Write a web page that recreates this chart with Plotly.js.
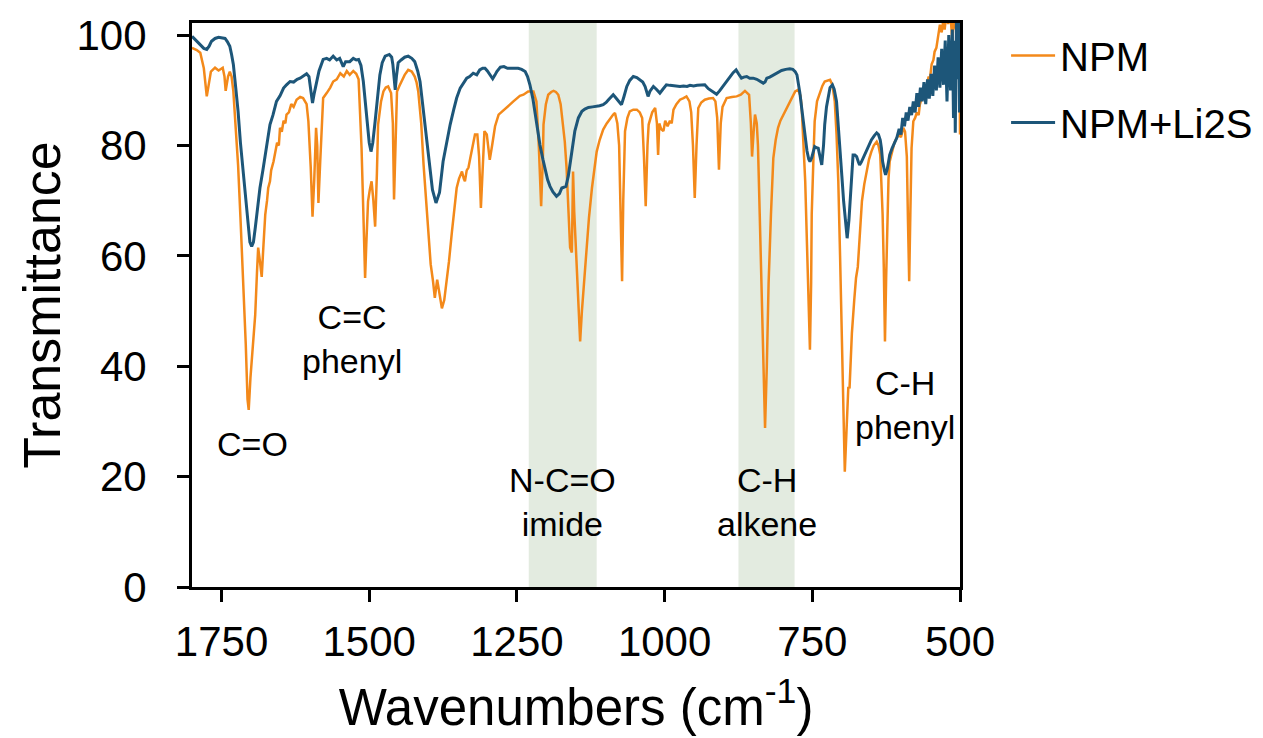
<!DOCTYPE html>
<html>
<head>
<meta charset="utf-8">
<script src="https://cdn.plot.ly/plotly-3.0.1.min.js"></script>
<style>html,body{margin:0;padding:0;background:#fff;}#chart{width:1263px;height:738px;}</style>
</head>
<body>
<div id="chart"></div>
<script>
// ---- Data ----
const seriesNames = ["NPM", "NPM+Li2S"];

const npmWn = [1800,1792,1786,1780,1775,1771,1768,1761,1755,1748,1745,1743,1739,1736,1733,1730,1726,1722,1718,1713,1709,1706,1704,1701,1697,1693,1690,1688,1685,1682,1679,1676,1673,1671,1668,1666,1662,1659,1656,1653,1651,1648,1645,1642,1640,1636,1632,1628,1623,1617,1612,1606,1603,1599,1596,1593,1590,1588,1586,1583,1578,1572,1566,1561,1555,1549,1543,1538,1533,1527,1522,1518,1515,1513,1510,1507,1505,1502,1499,1496,1493,1490,1487,1485,1480,1476,1472,1468,1463,1460,1458,1456,1453,1449,1445,1440,1434,1428,1423,1420,1417,1412,1408,1404,1400,1396,1392,1389,1385,1381,1377,1373,1369,1365,1360,1356,1352,1348,1343,1340,1338,1335,1332,1329,1325,1321,1317,1314,1311,1308,1305,1301,1298,1296,1292,1287,1281,1274,1268,1262,1256,1250,1245,1239,1231,1222,1217,1213,1209,1206,1205,1201,1197,1192,1188,1184,1180,1176,1174,1171,1169,1166,1163,1160,1157,1155,1153,1150,1146,1143,1140,1136,1132,1128,1123,1119,1115,1110,1104,1098,1092,1087,1084,1080,1077,1074,1072,1070,1067,1063,1059,1053,1047,1042,1038,1035,1032,1029,1027,1021,1016,1013,1011,1009,1006,1002,999,995,991,988,985,980,974,968,963,958,955,952,949,946,943,938,932,925,918,914,911,908,905,902,895,886,878,871,864,860,857,854,852,849,847,844,842,839,836,833,830,827,824,820,816,812,808,804,799,794,788,783,779,774,770,768,765,762,759,756,754,752,751,748,746,742,737,733,729,724,720,716,712,709,706,703,700,697,695,693,691,689,687,685,683,679,676,673,671,668,666,662,658,654,650,646,641,638,635,633,631,629,627,625,623,621,619,615,611,607,603,600,596,593,590,588,586,584,582,579,576,573,570,568,565,562,559,556,553,551,548,545,543,540,537,534,531,528,526,523,520,517,513,510,507,505,502,501,500];
const npmT  = [97.7,97.3,96.8,94,88.9,92,93.4,94.1,93.6,94.1,92.5,89.9,92.5,93.4,92.5,89.8,83,76.5,67,55.4,44,34,32.1,38,44,49.3,57,61.5,59,56.2,62,67.5,70,72.3,73.5,75.5,77.1,78.5,80.5,80,83.2,82.5,84.5,84,85.6,86,87.5,87,88.3,88.8,88.6,87.5,84.4,76,67.1,74,83.2,80,69.6,77,88.6,89.5,90.5,91.6,92,93.1,92.5,93.5,92.8,93.5,93,92,86,79.5,68,56,62,69.9,72,73.5,70,65.3,75,83.8,88,89.8,90.5,90.7,89.5,84,70.2,80,89.8,90.8,91.6,92.8,93.7,93.4,92.5,91.5,89.8,84,76.5,70,63.8,58.5,55.4,52.4,55.7,53,50.5,52,55.4,59,64.4,69,72.3,74,75.3,74,73.5,75.5,76,77.7,80,82,82,78,68.7,76,82.6,82,79,77.4,80,83.5,85.6,86.2,86.8,87.4,88,88.6,89,89.2,89.8,89.8,88,80,69,78,83.8,87.5,89.2,89.7,89.9,89.7,89.2,87.5,85.6,82,80.7,76,70,61.5,60.6,75.3,68,60,52,44.5,50,56,61.5,67,72.3,76,78.9,81,82.9,84,85,85.6,85.9,84,80,68,55.4,70,82.6,85,86.2,86.5,86.5,86,85,78,69,80,83.8,86,86.8,84,78.3,84,83,82.6,84.5,83.5,84.5,84,86.5,87.5,88.3,88.6,88.9,88,86,80,70.5,80,86.8,87.8,88.3,88.5,88.6,88,85,75.6,84,87,88.6,88.8,88.9,89.2,89.9,89.5,89.2,84,78,83,85.6,84,80,67.5,55,40,28.8,40,55,67.5,77.7,81,83.2,84.5,85.6,86.8,88,89,89.8,90.1,89,87,81,73.5,62,50,43,55,67.5,78,84.4,88,89.8,90.8,91.6,91.8,91.9,91,88,82,73.5,60,45,30,20.9,26,33,36.3,36,42,46,52,56,58,62,67,69.9,73,75.3,77.5,78.9,80,80.7,80,78.3,74,67.5,58,44.5,56,67.5,74,77.1,79,80.5,81.4,82,81.5,83.2,82.5,78,66,55.4,68,79.5,84.4,85,86,85.5,87.4,88.5,89,90.5,91,92.5,92,94.7,95.5,97,97.7,99.5,101.9,100.5,103,101,104,102,105,99,104,101,104,97,100,82];

const li2sWn = [1800,1793,1786,1780,1775,1771,1767,1761,1755,1749,1744,1740,1736,1733,1730,1726,1722,1718,1713,1709,1705,1702,1699,1696,1693,1689,1685,1680,1676,1672,1668,1663,1657,1651,1645,1640,1634,1628,1622,1617,1612,1606,1602,1599,1596,1593,1589,1585,1580,1578,1572,1567,1561,1555,1550,1544,1540,1533,1527,1522,1518,1514,1510,1507,1504,1500,1497,1494,1490,1486,1482,1478,1473,1466,1462,1460,1458,1456,1454,1451,1446,1440,1434,1428,1423,1418,1414,1409,1403,1398,1393,1387,1381,1375,1369,1363,1357,1352,1346,1340,1335,1330,1324,1318,1313,1308,1304,1300,1296,1291,1287,1284,1278,1272,1266,1259,1252,1248,1242,1236,1232,1228,1223,1219,1215,1211,1206,1202,1198,1194,1189,1183,1178,1174,1170,1167,1163,1160,1156,1152,1146,1140,1135,1129,1122,1115,1110,1104,1099,1095,1091,1087,1083,1078,1073,1069,1064,1059,1053,1047,1042,1037,1033,1030,1028,1025,1019,1014,1008,1003,997,991,985,980,974,968,962,957,951,945,938,932,926,920,916,912,907,901,895,889,884,879,875,870,866,861,856,850,844,839,833,830,827,822,816,809,802,795,788,783,779,776,774,771,768,765,762,759,756,754,751,748,746,743,740,737,734,731,729,726,723,720,716,713,709,706,703,700,697,694,691,688,686,683,681,678,675,672,670,667,664,660,655,650,645,641,638,635,633,631,628,626,623,619,615,611,607,603,600,597,594,591,588,585,582,579,576,573,570,567,564,561,558,555,552,549,546,543,540,537,534,531,528,525,522,519,516,513,511,509,508,506,504,502,501,500];
const li2sT  = [99.8,99,98.3,97.6,97.4,98,98.9,99.4,99.6,99.5,99.4,98.8,98,96.5,94.7,90.5,86.2,80.5,74.7,69.5,65,62.5,61.7,62.5,65,68.5,72.3,75.5,78.3,81,83.8,85.5,88,89,90.4,91,91.6,91.5,92,92.2,92.5,93,92.5,90.4,87.7,89.5,91.6,93.5,95,95.6,95.8,95.5,96.2,95.5,95.8,94.3,95.2,95.2,95.8,95.5,95.6,94.5,91.6,88,83.8,80.5,78.9,80.5,84.4,88.5,92.8,95,96.2,96.5,96,94.7,92,90.1,92.5,95,95.5,96,96.2,95.8,95.2,93.5,91.6,87,80.7,76,72,69.6,71.5,77.1,80.5,83.8,86.5,88.6,90.4,91.5,92.2,92.5,93.1,92.8,93.7,94,94,93.5,92.8,92.1,92.8,93.4,94.2,94.3,94,94,93.9,94,93.8,93.4,92.5,91,88.5,85.6,83,80.1,77.5,75.3,73.8,72.6,71.6,70.8,71.3,72.3,72.5,72.6,74.5,76.5,79.5,82.6,85,86.2,86.6,86.9,87,87.1,87.2,87.4,87.8,88.3,88.8,89.2,88.7,88,87.4,88.8,90.7,91.8,92.5,92.3,91.9,91.5,90.7,89.5,88.9,89.8,90.7,90.2,89.5,90.2,91,90.9,90.8,90.7,90.7,90.8,90.7,90.9,90.8,90.9,91,91,90.3,89.9,89.5,89.3,89.9,90.7,91.6,92.5,93.2,93.7,93,92.2,92.4,92.5,92.2,92.2,92,91.7,91.3,91.5,92.2,92.4,92.8,93.2,93.6,93.8,93.9,93.8,93.4,92.8,91.6,89.5,86.8,84,81.4,79,77.5,77.1,77.8,79.3,79.8,79.6,79.5,78,76.5,80,83.8,87,89.2,90.5,91,90.2,88,84,79.5,74.5,69.9,66,63.2,66.5,69.9,74,78.3,78.3,78,77,76.5,77,77.7,78.8,80.1,81,81.8,82.3,82,81,79.5,77.1,75.5,74.7,75.8,78.3,79.5,80.5,81.4,83,82,85,83.5,86,84.5,87,85.5,88,86,89.5,87,90.5,88,91.5,87.5,92,88.5,93,89,94.5,90,96,90.5,97.5,91,99,88,100,90,101,85,99,82.3,103,92,104,86,98];

// Annotated bands and labels
const bandStart = [1230, 875];
const bandEnd   = [1115, 780];
const labelText = ["C=O", "C=C<br>phenyl", "N-C=O<br>imide", "C-H<br>alkene", "C-H<br>phenyl"];
const labelWn   = [1697, 1530, 1173, 827, 593];
const labelT    = [26, 45, 15.4, 15.4, 33];

const xTicks = [1750, 1500, 1250, 1000, 750, 500];
const yTicks = [0, 20, 40, 60, 80, 100];

// ---- Styling ----
const FONT = "Liberation Sans, Arial, Helvetica, sans-serif";
const orange = "#F3891A";
const blue = "#1D5679";

const traces = [
  {x: npmWn, y: npmT, name: seriesNames[0], type: "scatter", mode: "lines",
   line: {color: orange, width: 2.5}, legendgroup: "a"},
  {x: li2sWn, y: li2sT, name: seriesNames[1], type: "scatter", mode: "lines",
   line: {color: blue, width: 3}, legendgroup: "b"}
];

const shapes = bandStart.map((s, i) => ({
  type: "rect", xref: "x", yref: "paper", x0: s, x1: bandEnd[i], y0: 0, y1: 1,
  fillcolor: "#E3EBE0", line: {width: 0}, layer: "below"
}));

const annotations = labelText.map((t, i) => ({
  x: labelWn[i], y: labelT[i], xref: "x", yref: "y", text: t, showarrow: false,
  font: {family: FONT, size: 34, color: "#000"}, align: "center"
}));

const layout = {
  width: 1263, height: 738,
  margin: {l: 192, r: 303, t: 23, b: 151, pad: 0, autoexpand: false},
  paper_bgcolor: "#fff", plot_bgcolor: "#fff",
  font: {family: FONT, color: "#000"},
  showlegend: true,
  legend: {x: 1.06, xanchor: "left", y: 1.0, yanchor: "top",
           font: {family: FONT, size: 40, color: "#000"},
           itemwidth: 44, traceorder: "grouped", tracegroupgap: 12,
           bgcolor: "rgba(0,0,0,0)"},
  xaxis: {range: [1800, 500], tickvals: xTicks, ticktext: xTicks.map(String),
          showline: true, linecolor: "#000", linewidth: 3, mirror: true,
          ticks: "outside", ticklen: 12, tickwidth: 3, tickcolor: "#000",
          showgrid: false, zeroline: false,
          tickfont: {family: FONT, size: 42, color: "#000"},
          ticklabelstandoff: 4,
          title: {text: "Wavenumbers (cm<sup>-1</sup>)", font: {family: FONT, size: 51, color: "#000"}, standoff: 25}},
  yaxis: {range: [0, 102.2], tickvals: yTicks, ticktext: yTicks.map(String),
          showline: true, linecolor: "#000", linewidth: 3, mirror: true,
          ticks: "outside", ticklen: 12, tickwidth: 3, tickcolor: "#000",
          showgrid: false, zeroline: false,
          tickfont: {family: FONT, size: 42, color: "#000"},
          ticklabelstandoff: 22,
          title: {text: "Transmittance", font: {family: FONT, size: 52, color: "#000"}, standoff: 0}},
  shapes: shapes,
  annotations: annotations
};

Plotly.newPlot("chart", traces, layout, {displayModeBar: false, staticPlot: true});
</script>
</body>
</html>
